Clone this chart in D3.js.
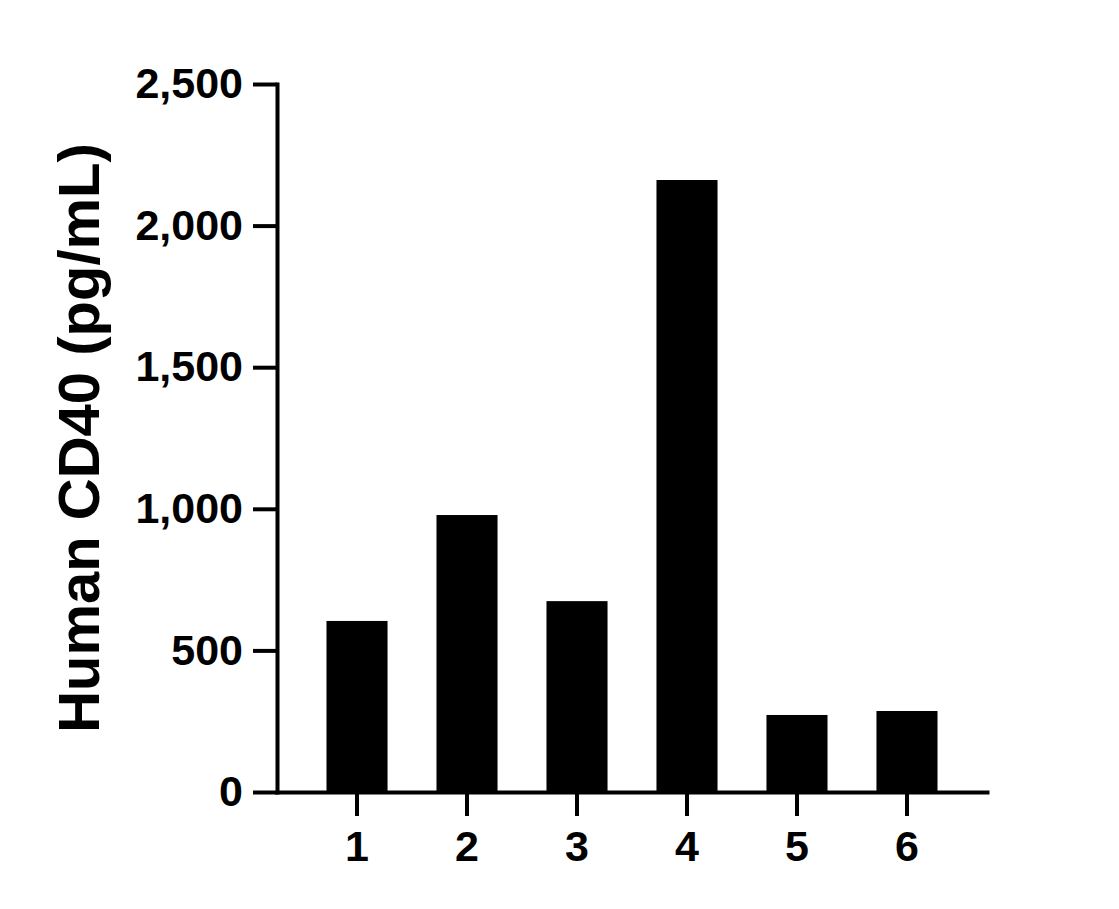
<!DOCTYPE html>
<html>
<head>
<meta charset="utf-8">
<script src="https://cdn.jsdelivr.net/npm/d3@7"></script>
<style>
  body { margin: 0; background: #fff; }
  svg { display: block; }
</style>
</head>
<body>
<div id="chart"></div>
<script>
const categories = ["1", "2", "3", "4", "5", "6"];
const values = [604, 978, 674, 2161, 272, 286];
const yTicks = [0, 500, 1000, 1500, 2000, 2500];
const yTitle = "Human CD40 (pg/mL)";

const width = 1119;
const height = 909;
const margin = { top: 84, right: 132, bottom: 117, left: 277 };
const font = "Liberation Sans, Arial, Helvetica, sans-serif";

const svg = d3.select("#chart").append("svg")
  .attr("width", width)
  .attr("height", height);

const x = d3.scaleBand()
  .domain(categories)
  .range([margin.left, width - margin.right])
  .paddingInner(0.445)
  .paddingOuter(0.45);

const y = d3.scaleLinear()
  .domain([0, 2500])
  .range([height - margin.bottom, margin.top]);

// bars
svg.append("g")
  .selectAll("rect")
  .data(values)
  .join("rect")
  .attr("x", (d, i) => x(categories[i]))
  .attr("y", d => y(d))
  .attr("width", x.bandwidth())
  .attr("height", d => y(0) - y(d))
  .attr("fill", "#000");

// y axis
const yAxis = svg.append("g")
  .attr("transform", `translate(${margin.left},0)`)
  .call(d3.axisLeft(y).tickValues(yTicks).tickFormat(d3.format(",")).tickSize(24).tickSizeOuter(0).tickPadding(10));

// x axis
const xAxis = svg.append("g")
  .attr("transform", `translate(0,${y(0)})`)
  .call(d3.axisBottom(x).tickSize(24).tickSizeOuter(0).tickPadding(14));

[yAxis, xAxis].forEach(g => {
  g.select(".domain").attr("stroke", "#000").attr("stroke-width", 4).attr("stroke-linecap", "square");
  g.selectAll(".tick line").attr("stroke", "#000").attr("stroke-width", 4);
  g.selectAll(".tick text")
    .attr("fill", "#000")
    .attr("font-family", font)
    .attr("font-weight", "bold")
    .attr("font-size", 43);
});

// y title
svg.append("text")
  .attr("transform", `translate(99,${(y(0) + y(2500)) / 2}) rotate(-90)`)
  .attr("text-anchor", "middle")
  .attr("font-family", font)
  .attr("font-weight", "bold")
  .attr("font-size", 58)
  .text(yTitle);
</script>
</body>
</html>
